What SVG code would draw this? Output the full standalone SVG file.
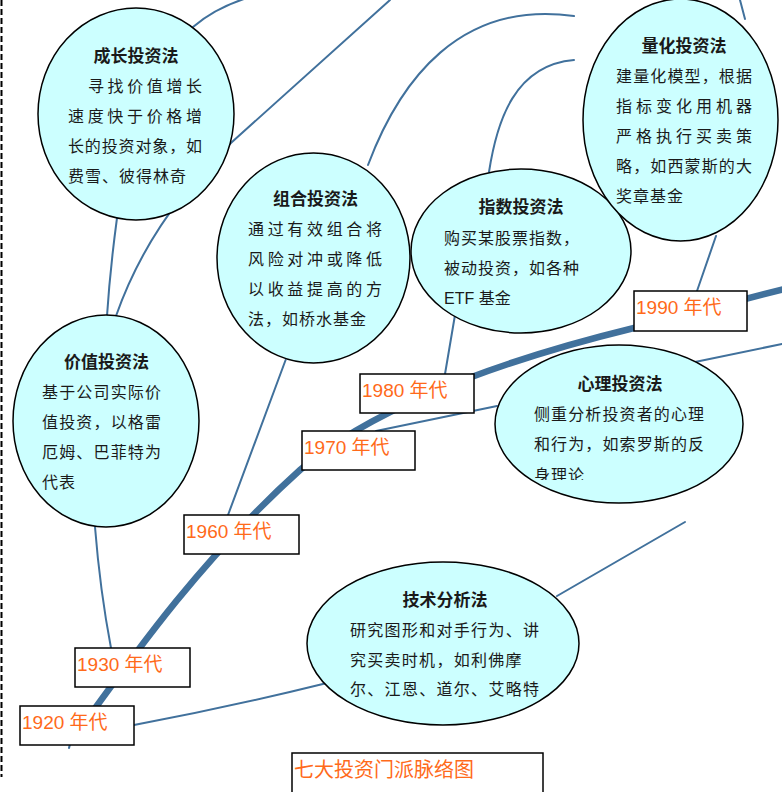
<svg xmlns="http://www.w3.org/2000/svg" width="782" height="792" viewBox="0 0 782 792">
<style>
.conn{fill:none;stroke:#41719C;stroke-width:2;stroke-linecap:round}
.main{fill:none;stroke:#41719C;stroke-width:6.5;stroke-linecap:butt}
.node ellipse{fill:#CCFFFF;stroke:#000;stroke-width:1.5}
.ttl{font-family:"Liberation Sans","Noto Sans CJK SC",sans-serif;font-size:17px;font-weight:bold;fill:#1a1a1a;text-anchor:middle}
.bd{font-family:"Liberation Sans","Noto Sans CJK SC",sans-serif;font-size:16px;fill:#1a1a1a;letter-spacing:1px}
.yr rect{fill:#fff;stroke:#000;stroke-width:1.5}
.yr text{font-family:"Liberation Sans","Noto Sans CJK SC",sans-serif;font-size:19px;fill:#FF6A1A}
</style>
<defs>
<clipPath id="cl6"><rect x="480" y="340" width="300" height="140"/></clipPath>
</defs>
<rect width="782" height="792" fill="#fff"/>
<line x1="1.5" y1="0" x2="1.5" y2="777" stroke="#000" stroke-width="2" stroke-dasharray="6 3"/>

<g id="connectors">
<path class="main" d="M70,743 C132,657 200,560 300,470 C360,418 470,368 634,328 L784,289"/>
<path class="conn" d="M70,744 L69,748"/>
<path class="conn" d="M134,725 Q230,707 327,683"/>
<path class="conn" d="M557,596 L685,522"/>
<path class="conn" d="M111,648 Q100,590 95,527"/>
<path class="conn" d="M117,218 Q110,270 107,316"/>
<path class="conn" d="M116,316 C135,262 170,200 232,142 L390,0"/>
<path class="conn" d="M193,27 Q215,8 247,-2"/>
<path class="conn" d="M368,165 C400,80 460,0 574,16"/>
<path class="conn" d="M489,172 C497,120 515,65 574,60"/>
<path class="conn" d="M740,0 L745,19"/>
<path class="conn" d="M716,236 L697,291"/>
<path class="conn" d="M455,315 L445,374"/>
<path class="conn" d="M376,431 L497,406"/>
<path class="conn" d="M695,362 L782,344"/>
<path class="conn" d="M285.6,360 L228,515"/>
</g>

<g id="node-chengzhang" class="node">
<ellipse cx="136" cy="114" rx="98" ry="106"/>
<text class="ttl" x="136" y="62">成长投资法</text>
<text class="bd" x="88" y="92" textLength="115" lengthAdjust="spacing">寻找价值增长</text>
<text class="bd" x="68" y="122" textLength="135" lengthAdjust="spacing">速度快于价格增</text>
<text class="bd" x="68" y="152" textLength="135" lengthAdjust="spacing">长的投资对象，如</text>
<text class="bd" x="68" y="182" textLength="119" lengthAdjust="spacing">费雪、彼得林奇</text>
</g>

<g id="node-jiazhi" class="node">
<ellipse cx="106" cy="421" rx="93" ry="106"/>
<text class="ttl" x="106.5" y="368">价值投资法</text>
<text class="bd" x="42" y="398" textLength="120" lengthAdjust="spacing">基于公司实际价</text>
<text class="bd" x="42" y="428" textLength="120" lengthAdjust="spacing">值投资，以格雷</text>
<text class="bd" x="42" y="458" textLength="120" lengthAdjust="spacing">厄姆、巴菲特为</text>
<text class="bd" x="42" y="488">代表</text>
</g>

<g id="node-zuhe" class="node">
<ellipse cx="313.5" cy="258" rx="96.5" ry="105"/>
<text class="ttl" x="315.5" y="205">组合投资法</text>
<text class="bd" x="248" y="235" textLength="135" lengthAdjust="spacing">通过有效组合将</text>
<text class="bd" x="248" y="265" textLength="135" lengthAdjust="spacing">风险对冲或降低</text>
<text class="bd" x="248" y="295" textLength="135" lengthAdjust="spacing">以收益提高的方</text>
<text class="bd" x="248" y="325" textLength="119" lengthAdjust="spacing">法，如桥水基金</text>
</g>

<g id="node-zhishu" class="node">
<ellipse cx="521" cy="251" rx="110" ry="82"/>
<text class="ttl" x="521" y="213">指数投资法</text>
<text class="bd" x="444" y="244" textLength="136" lengthAdjust="spacing">购买某股票指数，</text>
<text class="bd" x="444" y="274" textLength="136" lengthAdjust="spacing">被动投资，如各种</text>
<text class="bd" x="444" y="304" style="letter-spacing:0">ETF 基金</text>
</g>

<g id="node-lianghua" class="node">
<ellipse cx="680.5" cy="120" rx="97.5" ry="121"/>
<text class="ttl" x="684" y="52">量化投资法</text>
<text class="bd" x="616" y="82" textLength="137" lengthAdjust="spacing">建量化模型，根据</text>
<text class="bd" x="616" y="112" textLength="137" lengthAdjust="spacing">指标变化用机器</text>
<text class="bd" x="616" y="142" textLength="137" lengthAdjust="spacing">严格执行买卖策</text>
<text class="bd" x="616" y="172" textLength="137" lengthAdjust="spacing">略，如西蒙斯的大</text>
<text class="bd" x="616" y="202">奖章基金</text>
</g>

<g id="node-xinli" class="node">
<ellipse cx="619" cy="424" rx="124" ry="79"/>
<text class="ttl" x="620" y="390">心理投资法</text>
<text class="bd" x="534" y="420" textLength="171" lengthAdjust="spacing">侧重分析投资者的心理</text>
<text class="bd" x="534" y="450" textLength="171" lengthAdjust="spacing">和行为，如索罗斯的反</text>
<text class="bd" x="534" y="481" clip-path="url(#cl6)">身理论</text>
</g>

<g id="node-jishu" class="node">
<ellipse cx="443" cy="643.5" rx="136" ry="81.5"/>
<text class="ttl" x="445" y="606">技术分析法</text>
<text class="bd" x="350" y="636" textLength="190" lengthAdjust="spacing">研究图形和对手行为、讲</text>
<text class="bd" x="350" y="666" textLength="172.5" lengthAdjust="spacing">究买卖时机，如利佛摩</text>
<text class="bd" x="350" y="695" textLength="190" lengthAdjust="spacing">尔、江恩、道尔、艾略特</text>
</g>

<g id="year-1920" class="yr"><rect x="20" y="706" width="114" height="39"/><text x="22" y="729">1920 年代</text></g>
<g id="year-1930" class="yr"><rect x="75" y="648" width="115" height="39"/><text x="77" y="671">1930 年代</text></g>
<g id="year-1960" class="yr"><rect x="184" y="515" width="115" height="39"/><text x="186" y="538">1960 年代</text></g>
<g id="year-1970" class="yr"><rect x="302" y="431" width="113" height="39"/><text x="304" y="454">1970 年代</text></g>
<g id="year-1980" class="yr"><rect x="360" y="374" width="114" height="39"/><text x="362" y="397">1980 年代</text></g>
<g id="year-1990" class="yr"><rect x="634" y="291" width="113" height="40"/><text x="636" y="314">1990 年代</text></g>

<g id="title" class="yr">
<rect x="292" y="753" width="251" height="60"/>
<text x="294" y="777" style="font-size:20px">七大投资门派脉络图</text>
</g>
</svg>
